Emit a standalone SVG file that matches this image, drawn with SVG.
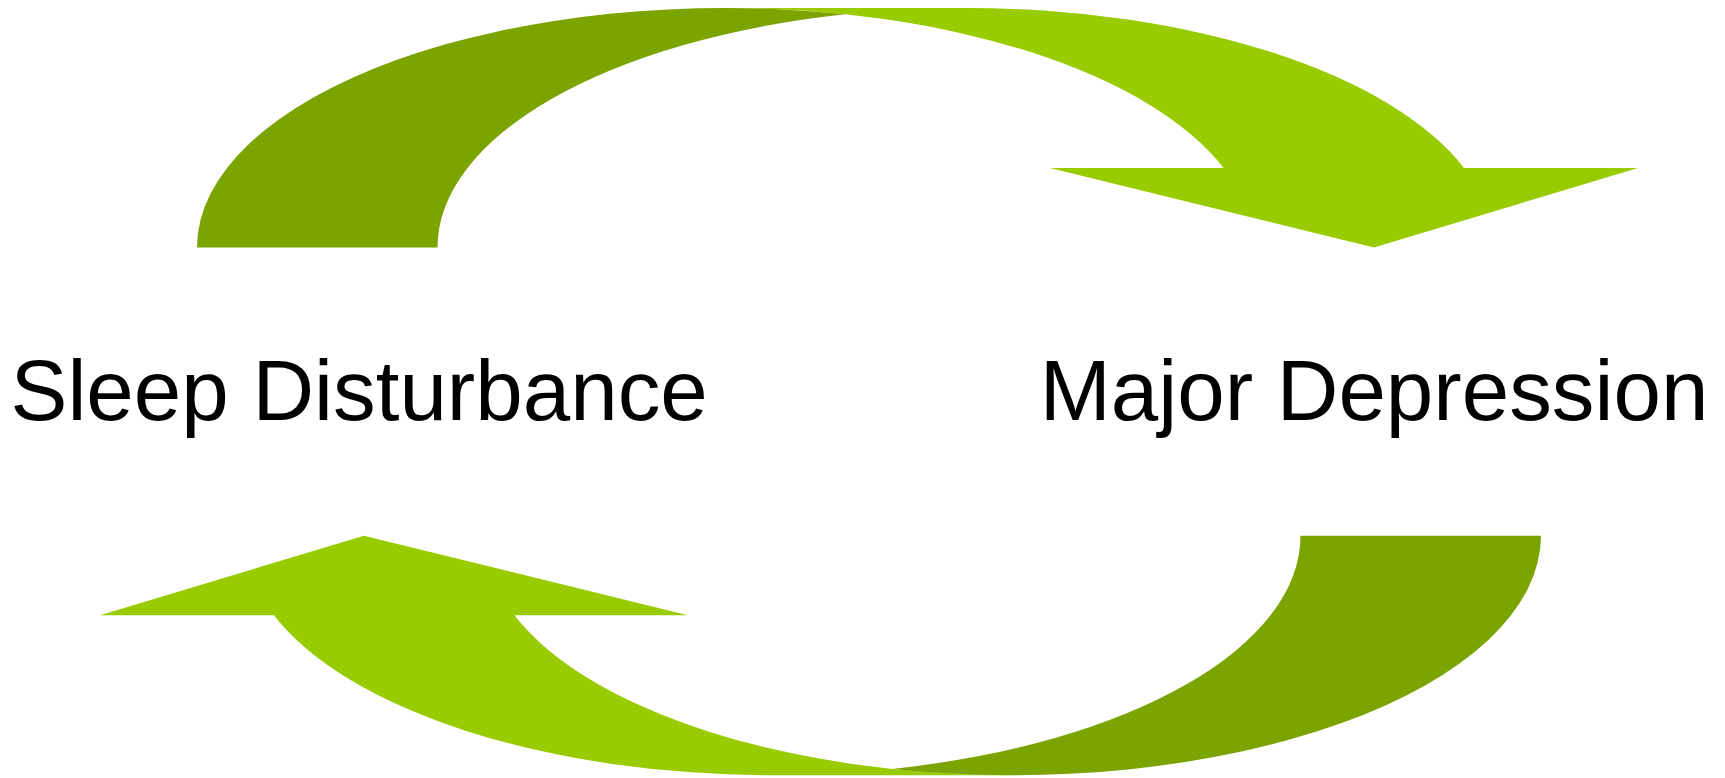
<svg xmlns="http://www.w3.org/2000/svg" width="1725" height="778" viewBox="0 0 1725 778">
  <style>
    .front { fill: #99CC00; }
    .back { fill: #7BA400; }
    .label { font-family: "Liberation Sans", Arial, sans-serif; font-size: 85.33px; fill: #000000; }
  </style>
  <defs>
    <g id="curvedArrow">
      <path class="front" d="M 1050,168 L 1223.6,168 A 528.3 239.5 0 0 0 725.3,8 L 965.8,8 A 528.3 239.5 0 0 1 1464.1,168 L 1638,168 L 1374,247.5 Z"/>
      <path class="back" d="M 197,247.5 A 528.3 239.5 0 0 1 845.55,14.3 A 528.3 239.5 0 0 0 437.5,247.5 Z"/>
    </g>
  </defs>
  <rect width="1725" height="778" fill="#FFFFFF"/>
  <g id="connectors">
    <use id="arrow-sleep-to-depression" href="#curvedArrow"/>
    <use id="arrow-depression-to-sleep" href="#curvedArrow" transform="rotate(180 869 391.6)"/>
  </g>
  <g id="node-sleep">
    <text class="label" x="10.5" y="420.3">Sleep Disturbance</text>
  </g>
  <g id="node-depression">
    <text class="label" x="1039.7" y="420.3">Major Depression</text>
  </g>
</svg>
